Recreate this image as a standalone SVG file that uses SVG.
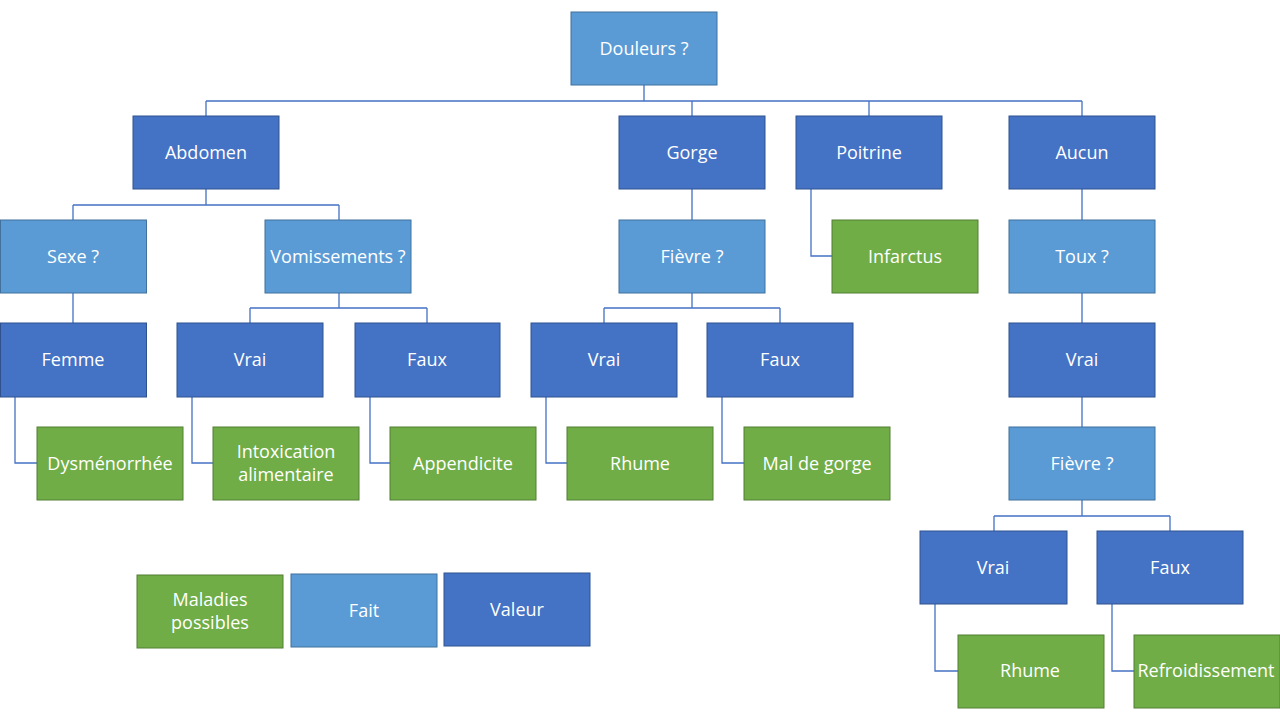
<svg xmlns="http://www.w3.org/2000/svg" width="1280" height="720" viewBox="0 0 1280 720">
<style>
rect{stroke-width:1}
.f{fill:#5B9BD5;stroke:#41719C}
.v{fill:#4472C4;stroke:#2F528F}
.m{fill:#70AD47;stroke:#507E32}
text{font-family:"Open Sans","Liberation Sans",sans-serif;font-size:18px;fill:#fff;text-anchor:middle;dominant-baseline:central}
#connectors path{fill:none;stroke:#4472C4;stroke-width:1.3}
</style>
<rect width="1280" height="720" fill="#fff"/>
<g id="connectors">
<path d="M644 85V101M206 101H1082M206 101V116M692 101V116M869 101V116M1082 101V116"/>
<path d="M206 189V205M73 205H339M73 205V220M339 205V220"/>
<path d="M692 189V220M1082 189V220M811 189V256H832"/>
<path d="M73 293V323M339 293V308M250 308H427M250 308V323M427 308V323"/>
<path d="M692 293V308M604 308H780M604 308V323M780 308V323"/>
<path d="M1082 293V323M1082 397V427"/>
<path d="M15 397V463H37M192 397V463H213M370 397V463H390M546 397V463H567M722 397V463H744"/>
<path d="M1082 500V516M994 516H1170M994 516V531M1170 516V531"/>
<path d="M935 604V671H958M1112 604V671H1134"/>
</g>
<g id="douleurs"><rect class="f" x="571" y="12" width="146" height="73"/><text x="644" y="48">Douleurs ?</text></g>
<g id="abdomen"><rect class="v" x="133" y="116" width="146" height="73"/><text x="206" y="152">Abdomen</text></g>
<g id="gorge"><rect class="v" x="619" y="116" width="146" height="73"/><text x="692" y="152">Gorge</text></g>
<g id="poitrine"><rect class="v" x="796" y="116" width="146" height="73"/><text x="869" y="152">Poitrine</text></g>
<g id="aucun"><rect class="v" x="1009" y="116" width="146" height="73"/><text x="1082" y="152">Aucun</text></g>
<g id="sexe"><rect class="f" x="0.5" y="220" width="146" height="73"/><text x="73" y="256">Sexe ?</text></g>
<g id="vomissements"><rect class="f" x="265" y="220" width="146" height="73"/><text x="338" y="256">Vomissements ?</text></g>
<g id="fievre1"><rect class="f" x="619" y="220" width="146" height="73"/><text x="692" y="256">Fièvre ?</text></g>
<g id="infarctus"><rect class="m" x="832" y="220" width="146" height="73"/><text x="905" y="256">Infarctus</text></g>
<g id="toux"><rect class="f" x="1009" y="220" width="146" height="73"/><text x="1082" y="256">Toux ?</text></g>
<g id="femme"><rect class="v" x="0.5" y="323" width="146" height="74"/><text x="73" y="359">Femme</text></g>
<g id="vrai1"><rect class="v" x="177" y="323" width="146" height="74"/><text x="250" y="359">Vrai</text></g>
<g id="faux1"><rect class="v" x="355" y="323" width="145" height="74"/><text x="427" y="359">Faux</text></g>
<g id="vrai2"><rect class="v" x="531" y="323" width="146" height="74"/><text x="604" y="359">Vrai</text></g>
<g id="faux2"><rect class="v" x="707" y="323" width="146" height="74"/><text x="780" y="359">Faux</text></g>
<g id="vrai3"><rect class="v" x="1009" y="323" width="146" height="74"/><text x="1082" y="359">Vrai</text></g>
<g id="dysmenorrhee"><rect class="m" x="37" y="427" width="146" height="73"/><text x="110" y="463">Dysménorrhée</text></g>
<g id="intoxication"><rect class="m" x="213" y="427" width="146" height="73"/><text x="286" y="451">Intoxication</text><text x="286" y="474">alimentaire</text></g>
<g id="appendicite"><rect class="m" x="390" y="427" width="146" height="73"/><text x="463" y="463">Appendicite</text></g>
<g id="rhume1"><rect class="m" x="567" y="427" width="146" height="73"/><text x="640" y="463">Rhume</text></g>
<g id="maldegorge"><rect class="m" x="744" y="427" width="146" height="73"/><text x="817" y="463">Mal de gorge</text></g>
<g id="fievre2"><rect class="f" x="1009" y="427" width="146" height="73"/><text x="1082" y="463">Fièvre ?</text></g>
<g id="vrai4"><rect class="v" x="920" y="531" width="147" height="73"/><text x="993" y="567">Vrai</text></g>
<g id="faux4"><rect class="v" x="1097" y="531" width="146" height="73"/><text x="1170" y="567">Faux</text></g>
<g id="rhume2"><rect class="m" x="958" y="635" width="146" height="73"/><text x="1030" y="670">Rhume</text></g>
<g id="refroidissement"><rect class="m" x="1134" y="635" width="146" height="73"/><text x="1206" y="670">Refroidissement</text></g>
<g id="legend-maladies"><rect class="m" x="137" y="575" width="146" height="73"/><text x="210" y="599">Maladies</text><text x="210" y="622">possibles</text></g>
<g id="legend-fait"><rect class="f" x="291" y="574" width="146" height="73"/><text x="364" y="610">Fait</text></g>
<g id="legend-valeur"><rect class="v" x="444" y="573" width="146" height="73"/><text x="517" y="609">Valeur</text></g>
</svg>
